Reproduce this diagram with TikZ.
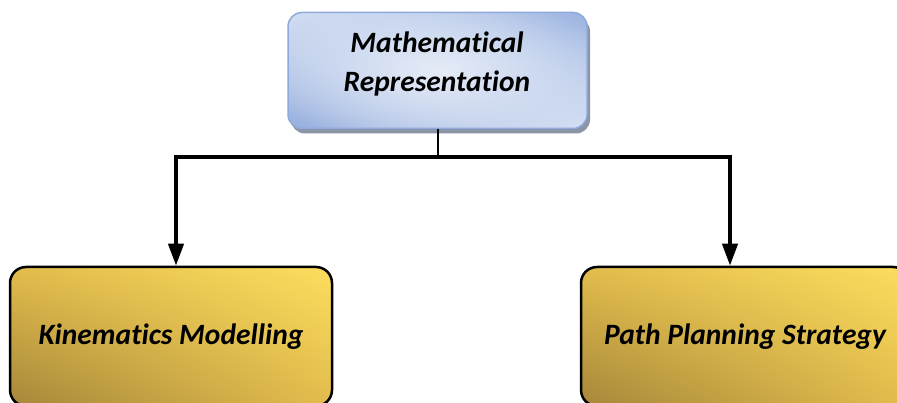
\documentclass[tikz,border=0pt]{standalone}
\usepackage{fontspec}
\setmainfont{Carlito}[Ligatures={NoCommon}]
\usetikzlibrary{arrows.meta,shadows,shadings,fadings}
\definecolor{goldhi}{HTML}{FCDE5E}
\definecolor{goldlo}{HTML}{A6873A}
\definecolor{goldmid}{HTML}{E2BC4C}
\definecolor{blueul}{HTML}{D3DEF2}
\definecolor{blueur}{HTML}{9CB4E1}
\definecolor{bluell}{HTML}{97AFDE}
\definecolor{bluelr}{HTML}{D6E0F3}
\definecolor{bluepale}{HTML}{E8EEF8}
\definecolor{blueedge}{HTML}{8EA9DB}
\definecolor{shadowgray}{HTML}{8C94A7}
% soft light patch in the middle of the title box
\tikzfading[name=softspot, inner color=transparent!5, outer color=transparent!100]
\tikzset{
  x=1pt, y=1pt,
  label font/.style={font=\fontsize{29.5}{39}\selectfont\bfseries\itshape, text=black},
  topbox/.style={rectangle, rounded corners=14pt, minimum width=299pt, minimum height=116pt,
    inner sep=0pt, draw=blueedge, line width=1.5pt,
    upper left=blueul, upper right=blueur, lower left=bluell, lower right=bluelr,
    path picture={\fill[bluepale, path fading=softspot, fit fading=true]
      ([xshift=-30pt,yshift=-20pt]path picture bounding box.south west)
      rectangle ([xshift=30pt,yshift=20pt]path picture bounding box.north east);},
    general shadow={shadow xshift=3pt, shadow yshift=-5pt, fill=shadowgray}},
  goldbox/.style={rectangle, rounded corners=16pt, minimum height=139pt, inner sep=0pt,
    draw=black, line width=2.5pt,
    upper right=goldhi, lower left=goldlo, upper left=goldmid, lower right=goldmid},
  busline/.style={line width=2pt, draw=black},
  arr/.style={line width=4pt, line join=miter, draw=black,
    -{Triangle[length=22pt,width=15pt]}},
}
\begin{document}
\begin{tikzpicture}
\useasboundingbox (0,0) rectangle (897,-403);
% top box with its title
\node[topbox] (top) at (437.5,-70.5) {};
\node[label font, align=center] (toptitle) at (437,-63.5) {Mathematical\\Representation};
% the two lower boxes
\node[goldbox, minimum width=322pt, label font] (km) at (171,-336.5) {Kinematics Modelling};
\node[goldbox, minimum width=328pt, label font] (pp) at (745,-336.5) {Path Planning Strategy};
% branch point of the connector bar
\coordinate (bus) at (top.south |- 0,-157);
\draw[busline] (top.south) -- (bus);
\draw[arr] (bus) -| ([xshift=5pt]km.north);
\draw[arr] (bus) -| ([xshift=-15pt]pp.north);
\end{tikzpicture}
\end{document}
